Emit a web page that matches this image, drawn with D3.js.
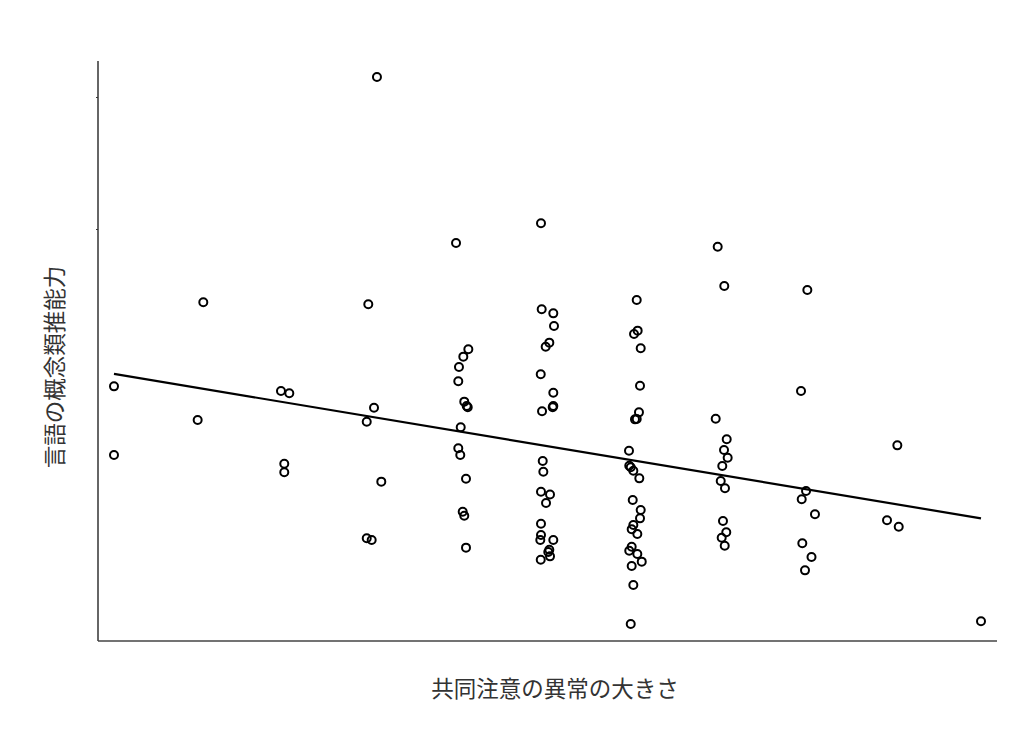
<!DOCTYPE html>
<html>
<head>
<meta charset="utf-8">
<script src="https://cdn.jsdelivr.net/npm/d3@7/dist/d3.min.js"></script>
<style>
  html, body { margin: 0; padding: 0; background: #fff; }
  svg { display: block; }
  text { font-family: "Noto Sans CJK JP", "Noto Sans", sans-serif; }
</style>
</head>
<body>
<svg id="chart" width="1024" height="744"></svg>
<script>
// x: jittered level of joint-attention abnormality (0..10), y: language concept-inference ability
const xValues = [
  0.00, 0.00,
  1.03, 0.965,
  1.926, 2.022, 1.964, 1.964,
  3.033, 2.933, 2.999, 2.915, 3.083, 2.915, 2.972,
  3.945, 4.087, 4.029, 3.979, 3.971, 4.040, 4.068, 4.080, 3.999, 3.971, 3.994, 4.060, 4.022, 4.040, 4.060,
  4.925, 4.933, 5.067, 5.075, 5.021, 4.979, 4.922, 5.067, 5.067, 5.060, 4.937, 4.945, 4.952, 4.925, 5.029, 4.983, 4.925, 4.925, 4.917, 5.067, 5.021, 5.009, 5.029, 4.922,
  6.029, 6.040, 5.998, 6.075, 6.067, 6.055, 6.009, 6.029, 5.940, 5.943, 5.960, 5.990, 6.059, 5.983, 6.075, 6.067, 5.990, 5.971, 6.036, 5.971, 5.943, 6.036, 6.087, 5.971, 5.990, 5.960,
  6.963, 7.039, 6.940, 7.067, 7.036, 7.078, 7.016, 6.998, 7.047, 7.024, 7.062, 7.009, 7.044,
  7.997, 7.924, 7.982, 7.932, 8.085, 7.939, 8.045, 7.970,
  9.035, 8.916, 9.051,
  10.00
];
const yValues = [
  18.08, 12.88,
  24.45, 15.53,
  17.73, 17.55, 12.22, 11.57,
  41.52, 24.30, 16.46, 15.40, 10.86, 6.57, 6.44,
  28.94, 20.89, 20.33, 19.55, 18.46, 16.92, 16.59, 16.49, 14.98, 13.39, 12.88, 11.08, 8.58, 8.28, 5.86,
  30.43, 23.92, 23.61, 22.65, 21.39, 21.08, 18.99, 17.60, 16.59, 16.49, 16.19, 12.42, 11.61, 10.10, 9.89, 9.24, 7.67, 6.82, 6.44, 6.44, 5.70, 5.53, 5.20, 4.95,
  24.62, 22.30, 22.05, 20.96, 18.13, 16.11, 15.58, 15.61, 13.20, 12.07, 11.95, 11.69, 11.11, 9.47, 8.71, 8.08, 7.58, 7.25, 6.89, 5.93, 5.63, 5.38, 4.80, 4.47, 3.03, 0.08,
  28.66, 25.68, 15.63, 14.07, 13.26, 12.67, 12.05, 10.91, 10.36, 7.88, 7.02, 6.61, 6.01,
  25.38, 17.73, 10.15, 9.52, 8.39, 6.19, 5.15, 4.14,
  13.61, 7.93, 7.45,
  0.28
];
// fitted regression line endpoints
const lineX = [0, 10];
const lineY = [19.02, 8.08];
const yTickValues = [30, 40];
const xLabel = "共同注意の異常の大きさ";
const yLabel = "言語の概念類推能力";

const svg = d3.select("#chart");
const mLeft = 98, mRight = 997, mTop = 61, mBottom = 641;

const x = d3.scaleLinear().domain([-0.1845, 10.1845]).range([mLeft, mRight]);
const y = d3.scaleLinear().domain([-1.212, 42.727]).range([mBottom, mTop]);

// y axis: line + small ticks, no labels
const yAxis = d3.axisLeft(y).tickValues(yTickValues).tickSize(2).tickFormat("");
const gy = svg.append("g").attr("transform", `translate(${mLeft},0)`).call(yAxis);
gy.select(".domain").remove();
gy.selectAll(".tick line").attr("stroke", "#333").attr("stroke-width", 1);
svg.append("line")
  .attr("x1", mLeft).attr("x2", mLeft).attr("y1", mTop).attr("y2", mBottom)
  .attr("stroke", "#333").attr("stroke-width", 1.5);

// x axis line
svg.append("line")
  .attr("x1", mLeft).attr("x2", mRight).attr("y1", mBottom).attr("y2", mBottom)
  .attr("stroke", "#444").attr("stroke-width", 1.5);

// regression line
svg.append("line")
  .attr("x1", x(lineX[0])).attr("y1", y(lineY[0]))
  .attr("x2", x(lineX[1])).attr("y2", y(lineY[1]))
  .attr("stroke", "#000").attr("stroke-width", 2.2);

// points
const pts = xValues.map((v, i) => ({ x: v, y: yValues[i] }));
svg.append("g").selectAll("circle").data(pts).join("circle")
  .attr("cx", d => x(d.x)).attr("cy", d => y(d.y))
  .attr("r", 4)
  .attr("fill", "none").attr("stroke", "#000").attr("stroke-width", 2);

// axis titles
svg.append("text")
  .attr("x", 555).attr("y", 697)
  .attr("text-anchor", "middle").attr("font-size", 22.5).attr("fill", "#333")
  .text(xLabel);
svg.append("text")
  .attr("transform", `translate(63,367) rotate(-90)`)
  .attr("text-anchor", "middle").attr("font-size", 22.5).attr("fill", "#333")
  .text(yLabel);
</script>
</body>
</html>
